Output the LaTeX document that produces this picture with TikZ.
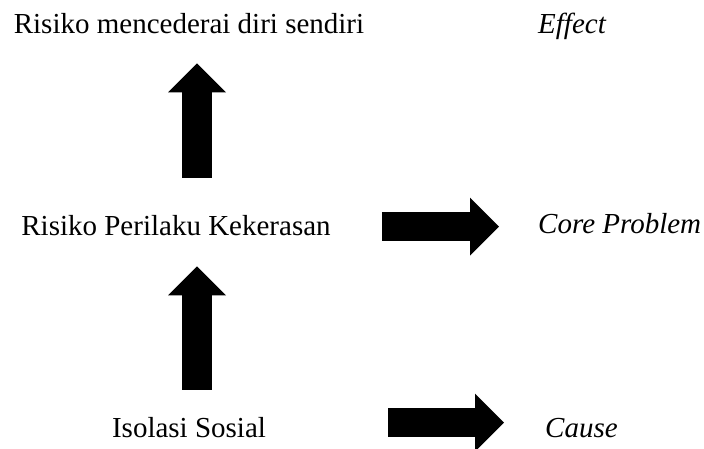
\documentclass[tikz,border=0pt]{standalone}
\usepackage{fontspec}
\setmainfont{Liberation Serif}
\usetikzlibrary{arrows.meta}

\begin{document}
\begin{tikzpicture}[x=1pt, y=-1pt,
  every node/.style={inner sep=0pt, font=\fontsize{29}{34}\selectfont},
  term/.style={anchor=base},
  side/.style={anchor=base west, font=\fontsize{29}{34}\selectfont\itshape},
  blockarrow/.style={line width=29.5pt, -{Triangle[length=29pt, width=58pt, line width=0pt]}}]
\useasboundingbox (0,0) rectangle (704,448);

% Problem tree
\node[term] (rms) at (189,33) {Risiko mencederai diri sendiri};
\node[term] (rpk) at (176,235) {Risiko Perilaku Kekerasan};
\node[term] (iso) at (189,437) {Isolasi Sosial};

% Right column
\node[side] (eff) at (538,33) {Effect};
\node[side] (core) at (538,233) {Core Problem};
\node[side] (cause) at (545,437) {Cause};

% Vertical arrows
\coordinate (axis) at (197,0);
\draw[blockarrow, shorten <=37pt, shorten >=30pt] (rpk.north -| axis) -- (rms.south -| axis);
\draw[blockarrow, shorten <=27pt, shorten >=31pt] (iso.north -| axis) -- (rpk.south -| axis);

% Horizontal arrows
\draw[blockarrow, shorten <=51pt, shorten >=39pt] ([yshift=-1.5pt]rpk.east) -- ([yshift=-1.5pt]rpk.east -| core.west);
\draw[blockarrow, shorten <=122pt, shorten >=41pt] ([yshift=4.5pt]iso.east) -- ([yshift=4.5pt]iso.east -| cause.west);

\end{tikzpicture}
\end{document}
